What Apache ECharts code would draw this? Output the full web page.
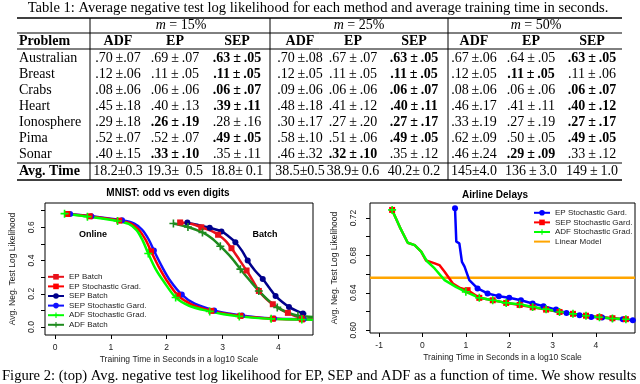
<!DOCTYPE html>
<html>
<head>
<meta charset="utf-8">
<title>Table 1 and Figure 2</title>
<script src="https://cdn.jsdelivr.net/npm/echarts@6.0.0/dist/echarts.min.js"></script>
<style>
  body, html { margin: 0; padding: 0; width: 100%; height: 100%; overflow: hidden; background: #fff; }
  #main { width: 640px; height: 384px; }
</style>
</head>
<body>
<div id="main"></div>
<script>
// ---------- Table 1 ----------
var problems = ['Australian', 'Breast', 'Crabs', 'Heart', 'Ionosphere', 'Pima', 'Sonar'];
var methods = ['ADF', 'EP', 'SEP'];
var groups = ['15%', '25%', '50%'];
// [mean, sd] per problem
var adf15 = [[.70, .07], [.12, .06], [.08, .06], [.45, .18], [.29, .18], [.52, .07], [.40, .15]];
var ep15  = [[.69, .07], [.11, .05], [.06, .06], [.40, .13], [.26, .19], [.52, .07], [.33, .10]];
var sep15 = [[.63, .05], [.11, .05], [.06, .07], [.39, .11], [.28, .16], [.49, .05], [.35, .11]];
var adf25 = [[.70, .08], [.12, .05], [.09, .06], [.48, .18], [.30, .17], [.58, .10], [.46, .32]];
var ep25  = [[.67, .07], [.11, .05], [.06, .06], [.41, .12], [.27, .20], [.51, .06], [.32, .10]];
var sep25 = [[.63, .05], [.11, .05], [.06, .07], [.40, .11], [.27, .17], [.49, .05], [.35, .12]];
var adf50 = [[.67, .06], [.12, .05], [.08, .06], [.46, .17], [.33, .19], [.62, .09], [.46, .24]];
var ep50  = [[.64, .05], [.11, .05], [.06, .06], [.41, .11], [.27, .19], [.50, .05], [.29, .09]];
var sep50 = [[.63, .05], [.11, .06], [.06, .07], [.40, .12], [.27, .17], [.49, .05], [.33, .12]];
// bold entry per row (0 = ADF, 1 = EP, 2 = SEP)
var best15 = [2, 2, 2, 2, 1, 2, 1];
var best25 = [2, 2, 2, 2, 2, 2, 1];
var best50 = [2, 1, 2, 2, 2, 2, 1];
var avgTime = ['18.2\u00b10.3', '19.3\u00b1\u2009 0.5', '18.8\u00b1\u20090.1',
               '38.5\u00b10.5', '38.9\u00b1\u20090.6', '40.2\u00b1\u20090.2',
               '145\u00b14.0', '136\u2009\u00b1\u20093.0', '149\u2009\u00b1\u20091.0'];

// ---------- MNIST: [log10 seconds, neg. test log likelihood] ----------
var mnistEpBatch = [[2.24, .629], [2.45, .620], [2.62, .600], [2.80, .578], [2.92, .555], [3.05, .520], [3.16, .474],
  [3.30, .405], [3.43, .340], [3.55, .275], [3.65, .217], [3.78, .170], [3.90, .137], [4.05, .105], [4.17, .085],
  [4.30, .066], [4.41, .055], [4.50, .051]];
var mnistEpBatchMarks = [0, 2, 4, 6, 8, 10, 12, 14, 16];
var mnistEpStoch = [[0.22, .680], [0.62, .666], [1.15, .640], [1.36, .622], [1.50, .585], [1.62, .525], [1.72, .455],
  [1.86, .360], [2.00, .280], [2.20, .190], [2.45, .135], [2.80, .097], [3.05, .080], [3.32, .067], [3.60, .057],
  [3.90, .050], [4.15, .047], [4.42, .046], [4.62, .045]];
var mnistEpStochMarks = [0, 1, 2, 6, 9, 11, 13, 15, 17];
var mnistSepBatch = [[2.37, .628], [2.55, .615], [2.77, .597], [2.98, .575], [3.10, .548], [3.23, .510], [3.35, .458],
  [3.45, .400], [3.58, .340], [3.72, .289], [3.84, .235], [3.95, .187], [4.07, .150], [4.19, .121], [4.32, .098],
  [4.44, .082], [4.50, .078]];
var mnistSepBatchMarks = [0, 2, 3, 5, 7, 9, 11, 13, 15];
var mnistSepStoch = [[0.27, .680], [0.65, .667], [1.20, .642], [1.42, .622], [1.56, .585], [1.68, .525], [1.77, .460],
  [1.92, .360], [2.06, .280], [2.27, .195], [2.50, .140], [2.85, .100], [3.10, .082], [3.35, .070], [3.65, .058],
  [3.92, .052], [4.20, .048], [4.45, .047], [4.62, .046]];
var mnistSepStochMarks = [0, 1, 2, 6, 9, 11, 13, 15, 17];
var mnistAdfStoch = [[0.17, .682], [0.58, .664], [1.12, .638], [1.32, .620], [1.46, .583], [1.57, .520], [1.67, .442],
  [1.80, .350], [1.95, .272], [2.16, .178], [2.40, .128], [2.77, .094], [3.02, .077], [3.30, .064], [3.58, .055],
  [3.87, .049], [4.15, .046], [4.42, .045], [4.62, .044]];
var mnistAdfStochMarks = [0, 1, 2, 6, 9, 11, 13, 15, 17];
var mnistAdfBatch = [[2.12, .623], [2.38, .602], [2.64, .569], [2.80, .535], [2.96, .486], [3.15, .420], [3.32, .348],
  [3.50, .275], [3.65, .217], [3.82, .160], [3.98, .118], [4.15, .090], [4.35, .068], [4.50, .063], [4.62, .061]];
var mnistAdfBatchMarks = [0, 1, 2, 4, 6, 8, 10, 12];

// ---------- Airline Delays ----------
var airEpStoch = [[0.75, .7304], [0.78, .6946], [0.85, .6929], [0.91, .6730], [0.97, .6680], [1.08, .6535],
  [1.27, .6446], [1.50, .6393], [1.76, .6364], [2.00, .6346], [2.27, .6320], [2.54, .6286], [2.79, .6257],
  [3.08, .6220], [3.32, .6185], [3.62, .6160], [3.89, .6142], [4.14, .6136], [4.38, .6125], [4.62, .6117],
  [4.85, .6107]];
var airEpStochMarks = [0, 6, 7, 8, 9, 10, 11, 12, 13, 14, 15, 16, 17, 18, 19, 20];
var airSepStoch = [[-0.70, .7286], [-0.52, .7100], [-0.34, .6935], [-0.18, .6910], [-0.03, .6840], [0.08, .6745],
  [0.25, .6720], [0.39, .6696], [0.51, .6625], [0.70, .6500], [0.85, .6455], [1.04, .6428], [1.31, .6346],
  [1.62, .6320], [1.93, .6292], [2.24, .6270], [2.54, .6245], [2.85, .6220], [3.16, .6195], [3.47, .6175],
  [3.77, .6155], [4.08, .6140], [4.38, .6128], [4.69, .6118]];
var airSepStochMarks = [0, 11, 12, 13, 14, 15, 16, 17, 18, 19, 20, 21, 22, 23];
var airAdfStoch = [[-0.70, .7286], [-0.52, .7100], [-0.34, .6935], [-0.18, .6910], [-0.03, .6840], [0.10, .6740],
  [0.28, .6660], [0.51, .6535], [0.78, .6460], [1.00, .6410], [1.31, .6346], [1.62, .6320], [1.93, .6292],
  [2.24, .6278], [2.54, .6249], [2.85, .6225], [3.16, .6195], [3.47, .6175], [3.77, .6155], [4.08, .6138],
  [4.38, .6125], [4.69, .6117]];
var airAdfStochMarks = [0, 9, 10, 11, 12, 13, 14, 15, 16, 17, 18, 19, 20, 21];
var airLinear = [[-1.21, .656], [4.90, .656]];

var mnistXTicks = [0, 1, 2, 3, 4];
var mnistYTicks = [0, .1, .2, .3, .4, .5, .6, .7];
var mnistYLabels = [0, .2, .4, .6];
var airXTicks = [-1, 0, 1, 2, 3, 4];
var airYTicks = [.60, .62, .64, .66, .68, .70, .72];
var airYLabels = [.60, .64, .68, .72];

var SERIF = '"Liberation Serif", "DejaVu Serif", serif';
var SANS = '"Liberation Sans", Arial, sans-serif';
var PLUS = 'path://M4,0H6V4H10V6H6V10H4V6H0V4H4Z';
var TS = '\u2009';   // thin space, like TeX math spacing

function fmt(v) { return v.toFixed(2).replace(/^0/, ''); }

// ---------- table as graphic elements ----------
var colX = [118, 175, 237, 300, 353, 414, 474, 531, 592];
var groupX = [181, 359, 536];
var rowY = [58, 74, 90, 106, 122, 138, 154];
var g = [];
function txt(s, x, y, opt) {
  opt = opt || {};
  g.push({
    type: 'text', x: x, y: y, silent: true,
    style: {
      text: s, fill: '#000', rich: opt.rich,
      font: (opt.bold ? 'bold ' : '') + (opt.size || 14) + 'px ' + (opt.family || SERIF),
      textAlign: opt.align || 'center', textVerticalAlign: 'middle'
    }
  });
}
function rule(x1, y1, x2, y2, w) {
  g.push({ type: 'line', silent: true, shape: { x1: x1, y1: y1, x2: x2, y2: y2 },
           style: { stroke: '#000', lineWidth: w || 1 } });
}

txt('Table 1: Average negative test log likelihood for each method and average training time in seconds.', 318, 8, { size: 14.6 });
rule(17, 18, 622, 18, 1.3);
rule(17, 33, 622, 33);
rule(17, 49, 622, 49);
rule(17, 163, 622, 163);
rule(17, 180, 622, 180, 1.3);
[90, 270, 448].forEach(function (x) { rule(x, 18, x, 180); });

groups.forEach(function (m, k) {
  txt('{i|m} = ' + m, groupX[k], 25, { rich: { i: { fontStyle: 'italic', fontSize: 14, fontFamily: SERIF } } });
});
txt('Problem', 19, 41, { bold: true, align: 'left' });
for (var k = 0; k < 9; k++) txt(methods[k % 3], colX[k], 41, { bold: true });

var tableCols = [adf15, ep15, sep15, adf25, ep25, sep25, adf50, ep50, sep50];
var bestCols = [best15, best25, best50];
problems.forEach(function (p, r) {
  txt(p, 19, rowY[r], { align: 'left' });
  tableCols.forEach(function (col, c) {
    var ms = col[r];
    var s = c % 3 === 0 ? fmt(ms[0]) + TS + '\u00b1' + fmt(ms[1]) : fmt(ms[0]) + TS + '\u00b1' + TS + fmt(ms[1]);
    txt(s, colX[c], rowY[r], { bold: bestCols[Math.floor(c / 3)][r] === c % 3 });
  });
});
txt('Avg. Time', 19, 171, { bold: true, align: 'left' });
avgTime.forEach(function (s, c) { txt(s, colX[c], 171); });

txt('Online', 93, 235, { bold: true, size: 9, family: SANS });
txt('Batch', 265, 235, { bold: true, size: 9, family: SANS });
txt('Figure 2: (top) Avg. negative test log likelihood for EP, SEP and ADF as a function of time. We show results',
    2, 376, { align: 'left', size: 14.6 });

// ---------- series ----------
function line(name, pts, marks, color, symbol, size, idx, smooth) {
  return {
    type: 'line', name: name, xAxisIndex: idx, yAxisIndex: idx,
    data: pts.map(function (p, i) {
      return marks.indexOf(i) >= 0 ? { value: p } : { value: p, symbol: 'none' };
    }),
    symbol: symbol, symbolSize: size, showSymbol: true, smooth: smooth,
    lineStyle: { color: color, width: 2.5 }, itemStyle: { color: color },
    emphasis: { disabled: true }, animation: false
  };
}

function xAxis(idx, min, max, ticks) {
  return {
    type: 'value', gridIndex: idx, min: min, max: max,
    axisLine: { show: false, onZero: false }, splitLine: { show: false },
    axisTick: { customValues: ticks, length: 4, lineStyle: { color: '#000' } },
    axisLabel: { customValues: ticks, fontSize: 8.5, color: '#222', fontFamily: SANS, margin: 8 },
    name: 'Training Time in Seconds in a log10 Scale', nameLocation: 'middle', nameGap: 20,
    nameTextStyle: { fontSize: 8.5, color: '#222', fontFamily: SANS }
  };
}
function yAxis(idx, min, max, ticks, labels, dec, gap, margin) {
  return {
    type: 'value', gridIndex: idx, min: min, max: max,
    axisLine: { show: false, onZero: false }, splitLine: { show: false },
    axisTick: { customValues: ticks, length: 4, lineStyle: { color: '#000' } },
    axisLabel: { customValues: labels, rotate: 90, fontSize: 8.5, color: '#222', fontFamily: SANS, margin: margin,
                 formatter: function (v) { return v.toFixed(dec); } },
    name: 'Avg. Neg. Test Log Likelihood', nameLocation: 'middle', nameGap: gap,
    nameTextStyle: { fontSize: 8.5, color: '#222', fontFamily: SANS }
  };
}

var chart = echarts.init(document.getElementById('main'));
chart.setOption({
  backgroundColor: '#fff',
  animation: false,
  textStyle: { fontFamily: SANS },
  title: [
    { text: 'MNIST: odd vs even digits', left: 168, top: 188, textAlign: 'center', padding: 0,
      textStyle: { fontSize: 10, fontWeight: 'bold', color: '#000', fontFamily: SANS } },
    { text: 'Airline Delays', left: 495, top: 190, textAlign: 'center', padding: 0,
      textStyle: { fontSize: 10, fontWeight: 'bold', color: '#000', fontFamily: SANS } }
  ],
  grid: [
    { left: 45, top: 203, width: 268, height: 132, show: true, borderColor: '#000', borderWidth: 1 },
    { left: 370, top: 203, width: 265, height: 130, show: true, borderColor: '#000', borderWidth: 1 }
  ],
  xAxis: [xAxis(0, -0.18, 4.62, mnistXTicks), xAxis(1, -1.21, 4.9, airXTicks)],
  yAxis: [yAxis(0, -0.048, 0.746, mnistYTicks, mnistYLabels, 1, 28, 9),
          yAxis(1, 0.597, 0.736, airYTicks, airYLabels, 2, 31, 12)],
  legend: [
    { orient: 'vertical', left: 47, top: 272, itemWidth: 16, itemHeight: 7, itemGap: 0, padding: 0,
      selectedMode: false, textStyle: { fontSize: 8, color: '#222', lineHeight: 9.6, fontFamily: SANS },
      data: ['EP Batch', 'EP Stochastic Grad.', 'SEP Batch', 'SEP Stochastic Gard.', 'ADF Stochastic Grad.', 'ADF Batch'] },
    { orient: 'vertical', left: 533, top: 208, itemWidth: 16, itemHeight: 7, itemGap: 0, padding: 0,
      selectedMode: false, textStyle: { fontSize: 8, color: '#222', lineHeight: 9.6, fontFamily: SANS },
      data: ['EP Stochastic Gard.\u200b', 'SEP Stochastic Gard.\u200b', 'ADF Stochastic Grad.\u200b',
             { name: 'Linear Model', itemStyle: { opacity: 0 } }] }
  ],
  series: [
    line('SEP Batch', mnistSepBatch, mnistSepBatchMarks, '#00008B', 'circle', 6, 0, 0.3),
    line('EP Batch', mnistEpBatch, mnistEpBatchMarks, '#E8101A', 'rect', 6, 0, 0.3),
    line('ADF Batch', mnistAdfBatch, mnistAdfBatchMarks, '#1E8B1E', PLUS, 8, 0, 0.3),
    line('SEP Stochastic Gard.', mnistSepStoch, mnistSepStochMarks, '#1010FF', 'circle', 6, 0, 0.3),
    line('EP Stochastic Grad.', mnistEpStoch, mnistEpStochMarks, '#FF0000', 'rect', 6, 0, 0.3),
    line('ADF Stochastic Grad.', mnistAdfStoch, mnistAdfStochMarks, '#00FF00', PLUS, 8, 0, 0.3),
    line('Linear Model', airLinear, [], '#FFA500', 'none', 0, 1, false),
    line('EP Stochastic Gard.\u200b', airEpStoch, airEpStochMarks, '#0000FF', 'circle', 6, 1, false),
    line('SEP Stochastic Gard.\u200b', airSepStoch, airSepStochMarks, '#FF0000', 'rect', 6, 1, false),
    line('ADF Stochastic Grad.\u200b', airAdfStoch, airAdfStochMarks, '#00FF00', PLUS, 8, 1, false)
  ],
  graphic: g
});
</script>
</body>
</html>
